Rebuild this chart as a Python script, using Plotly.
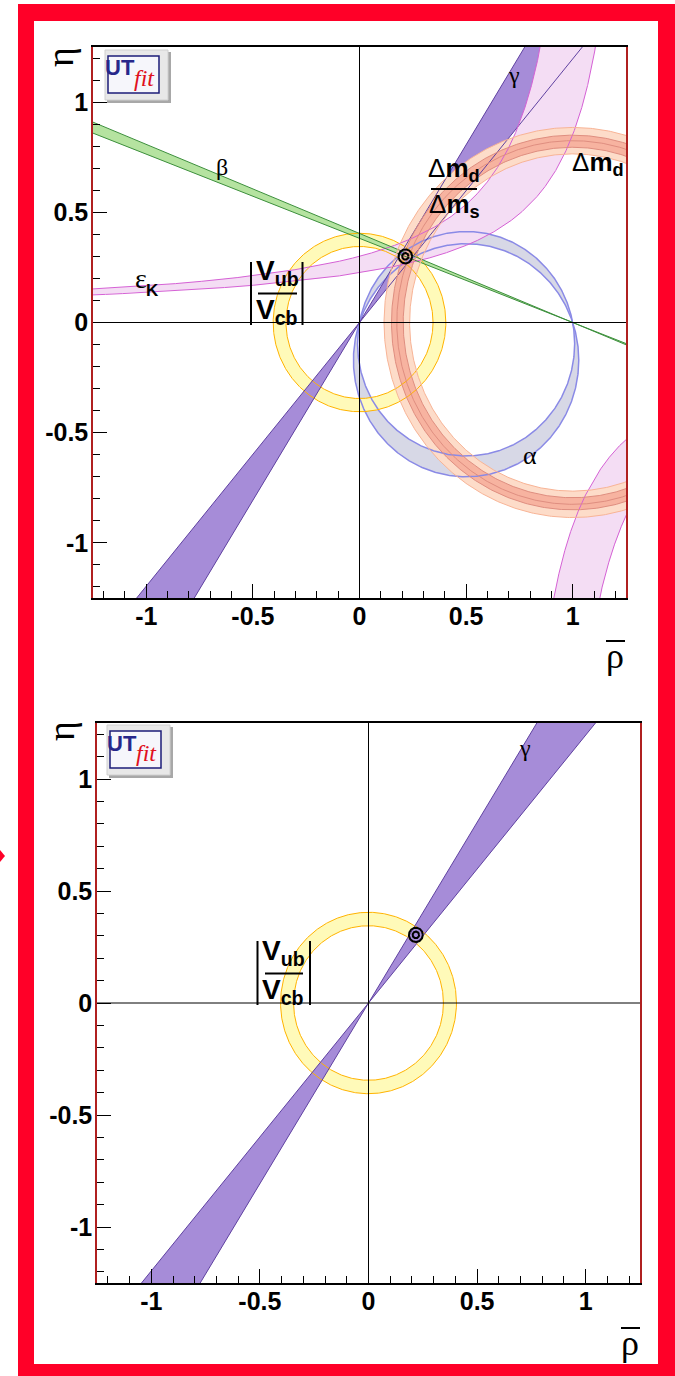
import numpy as np
import plotly.graph_objects as go

W, H = 675, 1376

# ---------------- values ----------------
axis_range = [-1.25, 1.25]
tick_vals = [-1, -0.5, 0, 0.5, 1]
tick_text = ["-1", "-0.5", "0", "0.5", "1"]

# best fit point (rho, eta) and its two contour radii
fit_top = [0.215, 0.300]
fit_bottom = [0.218, 0.304]
fit_radii = [0.015, 0.032]

# |Vub/Vcb| ring around the origin
vub_radii = [0.345, 0.405]
# gamma wedge from the origin (degrees)
gamma_deg = [50.1, 58.2]
# beta band from (1,0) (degrees)
beta_deg = [20.9, 22.0]
# alpha band: arcs through (0,0) and (1,0) (degrees)
alpha_deg = [100.9, 108.9]
# Delta m rings around (1,0)
dm_light_radii = [0.765, 0.885]
dm_dark_radii = [0.795, 0.850]
dm_extra_radius = [0.825]
# epsilon_K band edges, eta = b + k / (a - rho), given as (a, k, b)
epsk_upper_edges = [(1.10, 0.310, 0.0185), (1.33, 0.275, 0.0185)]
epsk_lower_edges = [(0.6615, 0.312, 0.0), (0.8356, 0.363, 0.0)]

# ---------------- colours ----------------
C_PURPLE, C_PURPLE_E = "#a68cd8", "#5f41a0"
C_YEL, C_YEL_E = "#fffab9", "#ffb300"
C_GRAY, C_GRAY_E = "#d7d8e6", "#8a8ae6"
C_GREEN, C_GREEN_E = "#b5e3a0", "#3c8f3c"
C_PINK, C_PINK_E = "#f4ddf4", "#d561d5"
C_PEACH, C_PEACH_E = "#fddcc9", "#f8b496"
C_SALMON, C_SALMON_E = "#f7b3a0", "#df8e80"
C_RED = "#ff0028"


# ---------------- geometry helpers ----------------
def circle(cx, cy, r, th0=0.0, ccw=True, n=721):
    t = th0 + np.linspace(0, 2 * np.pi, n) * (1 if ccw else -1)
    return cx + r * np.cos(t), cy + r * np.sin(t)


def ring(cx, cy, r_in, r_out):
    xo, yo = circle(cx, cy, r_out)
    xi, yi = circle(cx, cy, r_in, ccw=False)
    return np.concatenate([xo, xi]), np.concatenate([yo, yi])


def bowtie(cx, cy, angles, L=5.0):
    a1, a2 = np.radians(angles)
    xs = [cx, cx + L * np.cos(a1), cx + L * np.cos(a2), cx,
          cx - L * np.cos(a1), cx - L * np.cos(a2), cx]
    ys = [cy, cy + L * np.sin(a1), cy + L * np.sin(a2), cy,
          cy - L * np.sin(a1), cy - L * np.sin(a2), cy]
    return xs, ys


def bowtie_edges(cx, cy, angles, L=5.0):
    xs, ys = [], []
    for a in np.radians(angles):
        xs += [cx - L * np.cos(a), cx + L * np.cos(a), None]
        ys += [cy - L * np.sin(a), cy + L * np.sin(a), None]
    return xs, ys


def alpha_circle(alpha):
    c = 0.5 / np.tan(np.radians(alpha))
    return 0.5, c, np.sqrt(0.25 + c * c)


def hyper_upper(a, k, b, lim=1.45):
    r_top = a - k / (lim - b)
    rho = np.linspace(-1.45, r_top, 3000)
    return rho, b + k / (a - rho)


def hyper_lower(a, k, b, lim=1.45):
    r_bot = a + k / (lim + b)
    rho = np.linspace(r_bot, 1.45, 3000)
    return rho, b + k / (a - rho)


def poly(xs, ys, fill, ax):
    return go.Scatter(x=xs, y=ys, mode="lines", fill="toself", fillcolor=fill,
                      line=dict(width=0, color=fill), hoverinfo="skip",
                      xaxis=ax[0], yaxis=ax[1], showlegend=False)


def edge(xs, ys, color, ax, width=1.0):
    return go.Scatter(x=xs, y=ys, mode="lines", line=dict(width=width, color=color),
                      hoverinfo="skip", xaxis=ax[0], yaxis=ax[1], showlegend=False)


def circle_edges(cx, cy, radii):
    xs, ys = [], []
    for r in radii:
        x, y = circle(cx, cy, r)
        xs += list(x) + [None]
        ys += list(y) + [None]
    return xs, ys


fig = go.Figure()
TOP = ("x", "y")
BOT = ("x2", "y2")

# ================= top panel fills =================
(a1x, a1y, a1r), (a2x, a2y, a2r) = alpha_circle(alpha_deg[0]), alpha_circle(alpha_deg[1])
th1 = np.arctan2(-a1y, 0.5)
th2 = np.arctan2(-a2y, 0.5)
c1x, c1y = circle(a1x, a1y, a1r, th1, True)
c2x, c2y = circle(a2x, a2y, a2r, th2, False)
fig.add_trace(poly(np.concatenate([c1x, c2x]), np.concatenate([c1y, c2y]), C_GRAY, TOP))

vx, vy = ring(0, 0, vub_radii[0], vub_radii[1])
fig.add_trace(poly(vx, vy, C_YEL, TOP))

gx, gy = bowtie(0, 0, gamma_deg)
fig.add_trace(poly(gx, gy, C_PURPLE, TOP))

e1x, e1y = hyper_upper(*epsk_upper_edges[0])
e2x, e2y = hyper_upper(*epsk_upper_edges[1])
fig.add_trace(poly(np.concatenate([e1x, e2x[::-1]]), np.concatenate([e1y, e2y[::-1]]), C_PINK, TOP))
l1x, l1y = hyper_lower(*epsk_lower_edges[0])
l2x, l2y = hyper_lower(*epsk_lower_edges[1])
fig.add_trace(poly(np.concatenate([l1x, l2x[::-1]]), np.concatenate([l1y, l2y[::-1]]), C_PINK, TOP))

bx, by = bowtie(1, 0, [180 - beta_deg[0], 180 - beta_deg[1]])
fig.add_trace(poly(bx, by, C_GREEN, TOP))

dx, dy = ring(1, 0, dm_light_radii[0], dm_light_radii[1])
fig.add_trace(poly(dx, dy, C_PEACH, TOP))
dx, dy = ring(1, 0, dm_dark_radii[0], dm_dark_radii[1])
fig.add_trace(poly(dx, dy, C_SALMON, TOP))

# ================= top panel contour lines =================
xs, ys = circle_edges(a1x, a1y, [a1r])
fig.add_trace(edge(xs, ys, C_GRAY_E, TOP, 1.5))
xs, ys = circle_edges(a2x, a2y, [a2r])
fig.add_trace(edge(xs, ys, C_GRAY_E, TOP, 1.5))
xs, ys = circle_edges(0, 0, vub_radii)
fig.add_trace(edge(xs, ys, C_YEL_E, TOP))
xs, ys = bowtie_edges(0, 0, gamma_deg)
fig.add_trace(edge(xs, ys, C_PURPLE_E, TOP))
for ex, ey in [(e1x, e1y), (e2x, e2y), (l1x, l1y), (l2x, l2y)]:
    fig.add_trace(edge(ex, ey, C_PINK_E, TOP))
xs, ys = bowtie_edges(1, 0, [180 - beta_deg[0], 180 - beta_deg[1]])
fig.add_trace(edge(xs, ys, C_GREEN_E, TOP))
xs, ys = circle_edges(1, 0, dm_light_radii)
fig.add_trace(edge(xs, ys, C_PEACH_E, TOP))
xs, ys = circle_edges(1, 0, dm_dark_radii + dm_extra_radius)
fig.add_trace(edge(xs, ys, C_SALMON_E, TOP))
xs, ys = circle_edges(fit_top[0], fit_top[1], fit_radii)
fig.add_trace(edge(xs, ys, "black", TOP, 2))

# ================= bottom panel =================
vx, vy = ring(0, 0, vub_radii[0], vub_radii[1])
fig.add_trace(poly(vx, vy, C_YEL, BOT))
gx, gy = bowtie(0, 0, gamma_deg)
fig.add_trace(poly(gx, gy, C_PURPLE, BOT))
xs, ys = circle_edges(0, 0, vub_radii)
fig.add_trace(edge(xs, ys, C_YEL_E, BOT))
xs, ys = bowtie_edges(0, 0, gamma_deg)
fig.add_trace(edge(xs, ys, C_PURPLE_E, BOT))
xs, ys = circle_edges(fit_bottom[0], fit_bottom[1], fit_radii)
fig.add_trace(edge(xs, ys, "black", BOT, 2))


# ================= axes =================
minor_vals = [round(v, 2) for v in np.arange(-1.2, 1.25, 0.1) if abs(round(v * 2) - v * 2) > 1e-6]


def axis_style(domain, anchor, linecolor, linewidth, standoff):
    return dict(domain=domain, anchor=anchor, range=axis_range, showgrid=False, zeroline=False,
                showline=True, mirror=True, linecolor=linecolor, linewidth=linewidth,
                tickmode="array", tickvals=tick_vals, ticktext=tick_text,
                ticks="inside", ticklen=14, tickwidth=1.2, tickcolor="black",
                ticklabelstandoff=standoff,
                tickfont=dict(family="Liberation Sans", size=25, color="black", weight="bold"),
                minor=dict(tickmode="array", tickvals=minor_vals, ticks="inside",
                           ticklen=7, tickwidth=1, tickcolor="black"),
                fixedrange=True)


fig.update_layout(
    width=W, height=H, margin=dict(l=0, r=0, t=0, b=0),
    paper_bgcolor="white", plot_bgcolor="rgba(0,0,0,0)", showlegend=False,
    xaxis=axis_style([93 / W, 626 / W], "y", "black", 2, -5),
    yaxis=axis_style([1 - 598 / H, 1 - 47 / H], "x", "#b02020", 1.5, -2),
    xaxis2=axis_style([97 / W, 640 / W], "y2", "black", 2, -5),
    yaxis2=axis_style([1 - 1283 / H, 1 - 723 / H], "x2", "#b02020", 1.5, -2),
)


def P(x, y):
    return x / W, 1 - y / H


shapes = []
# red frame
x0, y0 = P(18, 4)
x1, y1 = P(675, 1376)
shapes.append(dict(type="rect", xref="paper", yref="paper", x0=x0, y0=y1, x1=x1, y1=y0,
                   fillcolor=C_RED, line=dict(width=0), layer="below"))
x0, y0 = P(34, 21)
x1, y1 = P(658, 1364)
shapes.append(dict(type="rect", xref="paper", yref="paper", x0=x0, y0=y1, x1=x1, y1=y0,
                   fillcolor="white", line=dict(width=0), layer="below"))
# small red marker at left edge
pa, pb, pc = P(0, 850), P(5, 856), P(0, 862)
shapes.append(dict(type="path", xref="paper", yref="paper",
                   path=f"M {pa[0]},{pa[1]} L {pb[0]},{pb[1]} L {pc[0]},{pc[1]} Z",
                   fillcolor=C_RED, line=dict(width=0)))

# zero lines
for xr, yr in [("x", "y"), ("x2", "y2")]:
    shapes.append(dict(type="line", xref=xr, yref=yr, x0=axis_range[0], x1=axis_range[1], y0=0, y1=0,
                       line=dict(color="black", width=1), layer="above"))
    shapes.append(dict(type="line", xref=xr, yref=yr, y0=axis_range[0], y1=axis_range[1], x0=0, x1=0,
                       line=dict(color="black", width=1), layer="above"))


def pline(xa, ya, xb, yb, w=2, color="black"):
    a, b = P(xa, ya), P(xb, yb)
    shapes.append(dict(type="line", xref="paper", yref="paper", x0=a[0], y0=a[1], x1=b[0], y1=b[1],
                       line=dict(color=color, width=w)))


def prect(xa, ya, xb, yb, fill, lc, lw):
    a, b = P(xa, ya), P(xb, yb)
    shapes.append(dict(type="rect", xref="paper", yref="paper", x0=a[0], y0=b[1], x1=b[0], y1=a[1],
                       fillcolor=fill, line=dict(color=lc, width=lw)))


annotations = []


def label(x, y, text, size, family="Liberation Sans", color="black", angle=0,
          xanchor="center", yanchor="middle", weight="normal", style="normal"):
    a = P(x, y)
    annotations.append(dict(x=a[0], y=a[1], xref="paper", yref="paper", text=text, showarrow=False,
                            font=dict(size=size, family=family, color=color, weight=weight, style=style),
                            textangle=angle, xanchor=xanchor, yanchor=yanchor))


def logo(x, y):
    prect(x + 2, y + 2, x + 66, y + 53, "#a8a8a8", "#a8a8a8", 0)
    prect(x, y, x + 63, y + 50, "#e8e8e8", "#d0d0d0", 1)
    prect(x + 3, y + 6, x + 54, y + 43, "#f6f6fb", "#1c1c78", 1.5)
    label(x + 15, y + 18, "UT", 22, family="Liberation Sans",
          color="#27278a", weight="bold")
    label(x + 39, y + 28, "fit", 24, family="Liberation Serif", color="#e01020", style="italic")


def vfrac(xl, xr, ytop, ybot, ybar, xbar0, xbar1, num, den, cx, yn, yd, size=28):
    pline(xl, ytop, xl, ybot)
    pline(xr, ytop, xr, ybot)
    pline(xbar0, ybar, xbar1, ybar)
    label(cx, yn, num, size, weight="bold")
    label(cx, yd, den, size, weight="bold")


# ---- top panel labels ----
logo(105, 50)
label(60, 57, "η", 38, family="Liberation Serif", angle=-90)
label(615, 656, "ρ", 36, family="Liberation Serif")
pline(606, 641, 625, 641, 2)
label(514, 75, "γ", 24, family="Liberation Serif")
label(222, 167, "β", 24, family="Liberation Serif")
label(141, 278, "ε", 28, family="Liberation Serif")
label(152, 290, "K", 17, weight="bold")
label(530, 456, "α", 26, family="Liberation Serif")
label(598, 163, "Δ<b>m</b><sub><b>d</b></sub>", 26)
label(454, 169, "Δ<b>m</b><sub><b>d</b></sub>", 26)
pline(431, 189, 477, 189, 2)
label(454, 206, "Δ<b>m</b><sub><b>s</b></sub>", 26)
vfrac(251, 302.5, 262, 325, 293.5, 258, 297,
      "V<sub>ub</sub>", "V<sub>cb</sub>", 277, 273, 312)

# ---- bottom panel labels ----
logo(107, 725)
label(61, 731, "η", 38, family="Liberation Serif", angle=-90)
label(630, 1343, "ρ", 36, family="Liberation Serif")
pline(621, 1328, 640, 1328, 2)
label(525, 748, "γ", 24, family="Liberation Serif")
vfrac(257.5, 310, 941, 1005, 973.5, 265, 303,
      "V<sub>ub</sub>", "V<sub>cb</sub>", 283, 953, 992)

fig.update_layout(shapes=shapes, annotations=annotations)
fig.write_html("out.html")
